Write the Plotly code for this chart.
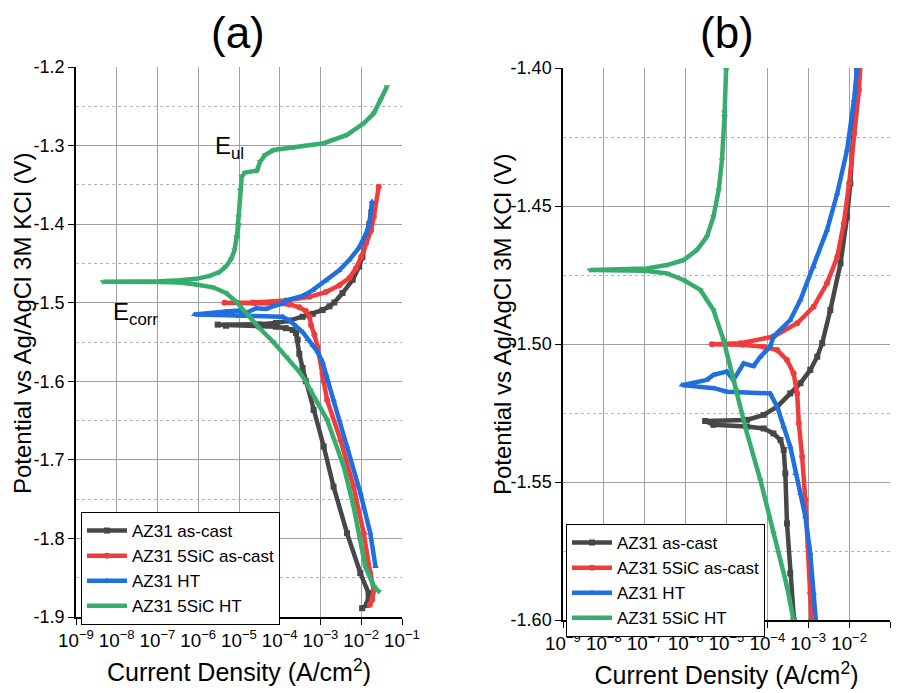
import plotly.graph_objects as go

# ---------------- data (current density A/cm2, potential V) ----------------
cast_i = [1.05e-2, 1.38e-2, 1.51e-2, 9.5e-3, 4.47e-3, 2.09e-3, 1.20e-3, 6.76e-4, 4.37e-4, 3.63e-4,
          3.02e-4, 2.75e-4, 2.51e-4, 2.09e-4, 1.41e-4, 8.1e-5, 3.16e-5, 4.8e-6, 3.0e-6,
          3.16e-5, 8.1e-5, 1.74e-4, 3.63e-4, 6.46e-4, 1.12e-3, 1.66e-3, 2.19e-3, 3.47e-3,
          6.17e-3, 8.91e-3, 1.07e-2, 1.32e-2, 1.58e-2, 1.78e-2]
cast_e = [-1.8888, -1.8845, -1.8696, -1.844, -1.7933, -1.734, -1.683, -1.6364, -1.600, -1.5831,
          -1.565, -1.5469, -1.5384, -1.5348, -1.5324, -1.5306, -1.5299, -1.5293, -1.5279,
          -1.5275, -1.5257, -1.5227, -1.5179, -1.5142, -1.5094, -1.5046, -1.4997, -1.4877,
          -1.4708, -1.4539, -1.4418, -1.420, -1.400, -1.385]

sic_cast_i = [1.62e-2, 1.86e-2, 2.04e-2, 1.66e-2, 1.15e-2, 6.46e-3, 3.09e-3, 1.45e-3, 1.20e-3,
              1.12e-3, 1.02e-3, 8.5e-4, 7.08e-4, 5.89e-4, 5.37e-4, 4.37e-4, 3.02e-4, 1.74e-4,
              8.1e-5, 2.5e-5, 4.4e-6,
              2.19e-5, 1.41e-4, 5.37e-4, 1.35e-3, 2.88e-3, 5.13e-3, 7.41e-3, 1.0e-2, 1.32e-2,
              1.74e-2, 2.04e-2, 2.69e-2]
sic_cast_e = [-1.8845, -1.878, -1.8654, -1.844, -1.7933, -1.734, -1.6746, -1.6237, -1.600,
              -1.5903, -1.5734, -1.5565, -1.5408, -1.5287, -1.5179, -1.5106, -1.5058, -1.5022,
              -1.5010, -1.5003, -1.5001,
              -1.4997, -1.4973, -1.4925, -1.4865, -1.478, -1.4684, -1.4563, -1.4418, -1.4237,
              -1.408, -1.3905, -1.3523]

ht_i = [2.24e-2, 1.66e-2, 9.55e-3, 4.47e-3, 2.09e-3, 1.51e-3, 1.35e-3, 1.12e-3, 8.5e-4, 6.46e-4,
        4.9e-4, 3.63e-4, 2.51e-4, 1.74e-4, 1.17e-4, 1.02e-5, 5.0e-6, 8.1e-7,
        3.3e-6, 4.8e-6, 1.02e-5, 1.48e-5, 2.63e-5, 4.57e-5, 6.76e-5, 1.17e-4, 1.41e-4,
        3.63e-4, 6.46e-4, 1.35e-3, 2.88e-3, 5.13e-3, 8.91e-3, 1.32e-2, 1.58e-2, 1.84e-2]
ht_e = [-1.8357, -1.793, -1.7424, -1.683, -1.6237, -1.600, -1.5903, -1.5758, -1.5625, -1.5541,
        -1.5469, -1.5372, -1.530, -1.5227, -1.5179, -1.5173, -1.516, -1.5149,
        -1.5130, -1.5112, -1.5100, -1.5130, -1.5070, -1.5080, -1.5046, -1.5010, -1.4973,
        -1.4913, -1.484, -1.472, -1.4587, -1.4454, -1.4297, -1.4116, -1.3995, -1.3713]

sic_ht_i = [2.69e-2, 2.04e-2, 1.26e-2, 9.55e-3, 6.46e-3, 3.72e-3, 1.45e-3, 5.62e-4, 4.37e-4,
            3.02e-4, 1.41e-4, 6.76e-5, 3.02e-5, 1.74e-5, 8.5e-6, 4.8e-6, 2.29e-6, 8.9e-7,
            3.5e-7, 1.0e-7, 4.6e-9,
            1.12e-7, 3.47e-7, 8.9e-7, 1.91e-6, 3.31e-6, 4.79e-6, 6.46e-6, 7.76e-6, 8.91e-6,
            9.77e-6, 8.91e-6, 9.77e-6, 1.07e-5, 1.17e-5, 1.41e-5, 2.75e-5, 3.31e-5, 4.37e-5,
            7.08e-5, 2.19e-4, 1.20e-3, 4.47e-3, 1.15e-2, 2.04e-2, 2.95e-2, 4.27e-2]
sic_ht_e = [-1.8675, -1.861, -1.836, -1.802, -1.759, -1.7085, -1.649, -1.611, -1.600,
            -1.5879, -1.5686, -1.5493, -1.5312, -1.5167, -1.4986, -1.4877, -1.4804, -1.4768,
            -1.4744, -1.4735, -1.4732,
            -1.4726, -1.4714, -1.4696, -1.4659, -1.4611, -1.4539, -1.4442, -1.4333, -1.4176,
            -1.4007, -1.416, -1.3905, -1.3565, -1.3395, -1.3344, -1.3319, -1.3204, -1.312,
            -1.3056, -1.3026, -1.297, -1.2865, -1.2716, -1.259, -1.242, -1.225]

series_names = ["AZ31 as-cast", "AZ31 5SiC as-cast", "AZ31 HT", "AZ31 5SiC HT"]
series_i = [cast_i, sic_cast_i, ht_i, sic_ht_i]
series_e = [cast_e, sic_cast_e, ht_e, sic_ht_e]
colors = ["#474747", "#f03c3c", "#1f6fe0", "#36ad6c"]
symbols = ["square", "circle", "triangle-up", "triangle-down"]

ya_ticks = [-1.9, -1.8, -1.7, -1.6, -1.5, -1.4, -1.3, -1.2]
ya_labels = ["-1.9", "-1.8", "-1.7", "-1.6", "-1.5", "-1.4", "-1.3", "-1.2"]
yb_ticks = [-1.60, -1.55, -1.50, -1.45, -1.40]
yb_labels = ["-1.60", "-1.55", "-1.50", "-1.45", "-1.40"]

W, H = 906, 693
FONT = "Liberation Sans, Arial, sans-serif"

fig = go.Figure()
for k in range(4):
    for xa, ya, lg in [("x", "y", "legend"), ("x2", "y2", "legend2")]:
        fig.add_trace(go.Scatter(
            x=series_i[k], y=series_e[k], mode="lines+markers", name=series_names[k],
            xaxis=xa, yaxis=ya, legend=lg, cliponaxis=True,
            line=dict(color=colors[k], width=4.5),
            marker=dict(color=colors[k], symbol=symbols[k], size=6),
        ))

def xaxis(dom, anchor):
    return dict(type="log", domain=dom, range=[-9, -1], dtick=1, exponentformat="power",
                tickangle=0, anchor=anchor,
                showline=True, linecolor="black", linewidth=1.5, ticks="outside", ticklen=6,
                tickcolor="black", gridcolor="#a0a0a0", gridwidth=1, zeroline=False,
                tickfont=dict(size=15), automargin=False,
                title=dict(text="Current Density (A/cm<sup>2</sup>)", font=dict(size=25), standoff=14))

def yaxis(dom, rng, tv, tt, anchor, mdt):
    return dict(domain=dom, range=rng, tickmode="array", tickvals=tv, ticktext=tt, anchor=anchor,
                showline=True, linecolor="black", linewidth=1.5, ticks="outside", ticklen=6,
                tickcolor="black", gridcolor="#a0a0a0", gridwidth=1, zeroline=False,
                tickfont=dict(size=18), automargin=False,
                minor=dict(dtick=mdt, showgrid=True, griddash="dot", gridcolor="#b4b4b4", ticks=""))

fig.update_layout(
    width=W, height=H, margin=dict(l=0, r=0, t=0, b=0),
    paper_bgcolor="white", plot_bgcolor="white",
    font=dict(family=FONT, size=17, color="black"),
    xaxis=xaxis([76 / W, 402 / W], "y"),
    yaxis=yaxis([1 - 617 / H, 1 - 67 / H], [-1.9, -1.2], ya_ticks, ya_labels, "x", 0.05),
    xaxis2=xaxis([563 / W, 890 / W], "y2"),
    yaxis2=yaxis([1 - 620 / H, 1 - 68 / H], [-1.60, -1.40], yb_ticks, yb_labels, "x2", 0.025),
    legend=dict(x=81 / W, y=1 - 512 / H, xanchor="left", yanchor="top", bgcolor="white",
                bordercolor="black", borderwidth=1, font=dict(size=17), tracegroupgap=0,
                itemwidth=40),
    legend2=dict(x=566 / W, y=1 - 524 / H, xanchor="left", yanchor="top", bgcolor="white",
                 bordercolor="black", borderwidth=1, font=dict(size=17), tracegroupgap=0,
                 itemwidth=40),
    showlegend=True,
)

ytitle = "Potential vs Ag/AgCl 3M KCl (V)"
for xc in (23, 503):
    fig.add_annotation(text=ytitle, x=xc / W, y=1 - 324 / H, xref="paper", yref="paper",
                       showarrow=False, textangle=-90, font=dict(size=24),
                       xanchor="center", yanchor="middle")

fig.add_annotation(text="(a)", x=238 / W, y=1 - 32 / H, xref="paper", yref="paper",
                   showarrow=False, font=dict(size=44), xanchor="center", yanchor="middle")
fig.add_annotation(text="(b)", x=727 / W, y=1 - 32 / H, xref="paper", yref="paper",
                   showarrow=False, font=dict(size=44), xanchor="center", yanchor="middle")
fig.add_annotation(text="E<sub>ul</sub>", x=213 / W, y=1 - 148 / H, xref="paper", yref="paper",
                   showarrow=False, font=dict(size=24), xanchor="left", yanchor="middle")
fig.add_annotation(text="E<sub>corr</sub>", x=111 / W, y=1 - 313 / H, xref="paper", yref="paper",
                   showarrow=False, font=dict(size=24), xanchor="left", yanchor="middle")

fig.write_html("out.html")
